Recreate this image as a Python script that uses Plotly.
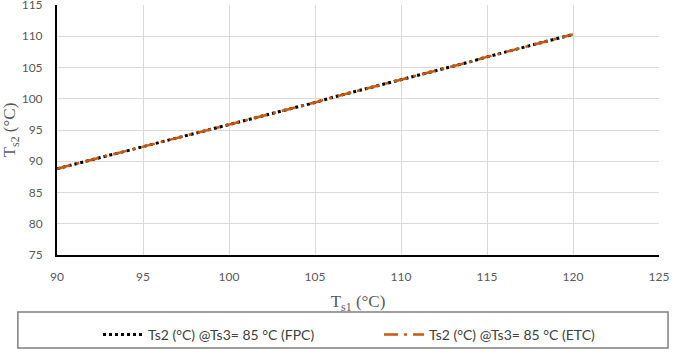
import plotly.graph_objects as go

ts1 = list(range(90, 121))
ts2_fpc = [88.8, 89.5, 90.2, 90.9, 91.6, 92.3, 93.0, 93.7, 94.5, 95.2, 95.9,
           96.6, 97.3, 98.0, 98.7, 99.4, 100.2, 100.9, 101.6, 102.3, 103.0,
           103.8, 104.5, 105.2, 105.9, 106.7, 107.4, 108.1, 108.8, 109.6, 110.3]
ts2_etc = [88.8, 89.5, 90.2, 90.9, 91.6, 92.3, 93.0, 93.7, 94.5, 95.2, 95.9,
           96.6, 97.3, 98.0, 98.7, 99.4, 100.2, 100.9, 101.6, 102.3, 103.0,
           103.8, 104.5, 105.2, 105.9, 106.7, 107.4, 108.1, 108.8, 109.6, 110.3]
x_ticks = [90, 95, 100, 105, 110, 115, 120, 125]
y_ticks = [75, 80, 85, 90, 95, 100, 105, 110, 115]

fig = go.Figure()
fig.add_trace(go.Scatter(x=ts1, y=ts2_fpc, mode="lines",
                         name="Ts2 (°C) @Ts3= 85 °C (FPC)",
                         line=dict(color="black", width=3, dash="dot")))
fig.add_trace(go.Scatter(x=ts1, y=ts2_etc, mode="lines",
                         name="Ts2 (°C) @Ts3= 85 °C (ETC)",
                         line=dict(color="#C55A11", width=2.5, dash="14px,6px,3px,6px")))

grid = "#D9D9D9"
tick_font = dict(family="Lato, Liberation Sans, sans-serif", size=12, color="#595959")
fig.update_layout(
    width=685, height=352,
    margin=dict(l=57, r=26, t=5, b=97, autoexpand=False),
    paper_bgcolor="white", plot_bgcolor="white",
    showlegend=True,
    legend=dict(orientation="h", xref="container", yref="container",
                x=98/685, y=1 - 319/352, xanchor="left", yanchor="top",
                entrywidth=226, entrywidthmode="pixels", itemwidth=40,
                font=dict(family="Lato, Liberation Sans, sans-serif", size=14, color="#404040"),
                bgcolor="rgba(0,0,0,0)"),
    xaxis=dict(range=[90, 125], tickvals=x_ticks, showgrid=True, gridcolor=grid, gridwidth=1,
               showline=True, linecolor="black", linewidth=2, zeroline=False,
               ticks="", tickfont=tick_font, ticklabelstandoff=10, automargin=False,
               ticklabeloverflow="allow",
               title=dict(text="T<sub>s1</sub> (°C)", standoff=12,
                          font=dict(family="Liberation Serif, serif", size=17, color="#595959"))),
    yaxis=dict(range=[75, 115], tickvals=y_ticks, showgrid=True, gridcolor=grid, gridwidth=1,
               showline=True, linecolor="black", linewidth=2, zeroline=False,
               ticks="", tickfont=tick_font, ticklabelstandoff=10, automargin=False,
               ticklabeloverflow="allow",
               title=dict(text="T<sub>s2</sub> (°C)", standoff=8,
                          font=dict(family="Liberation Serif, serif", size=17, color="#595959"))),
    shapes=[dict(type="rect", xref="paper", yref="paper",
                 x0=-0.065, x1=1.015, y0=-0.372, y1=-0.228,
                 line=dict(color="#7F7F7F", width=1.5), fillcolor="rgba(0,0,0,0)")],
)
fig.write_html("out.html", config={"displayModeBar": False},
               post_script="document.body.style.margin='0px';")
